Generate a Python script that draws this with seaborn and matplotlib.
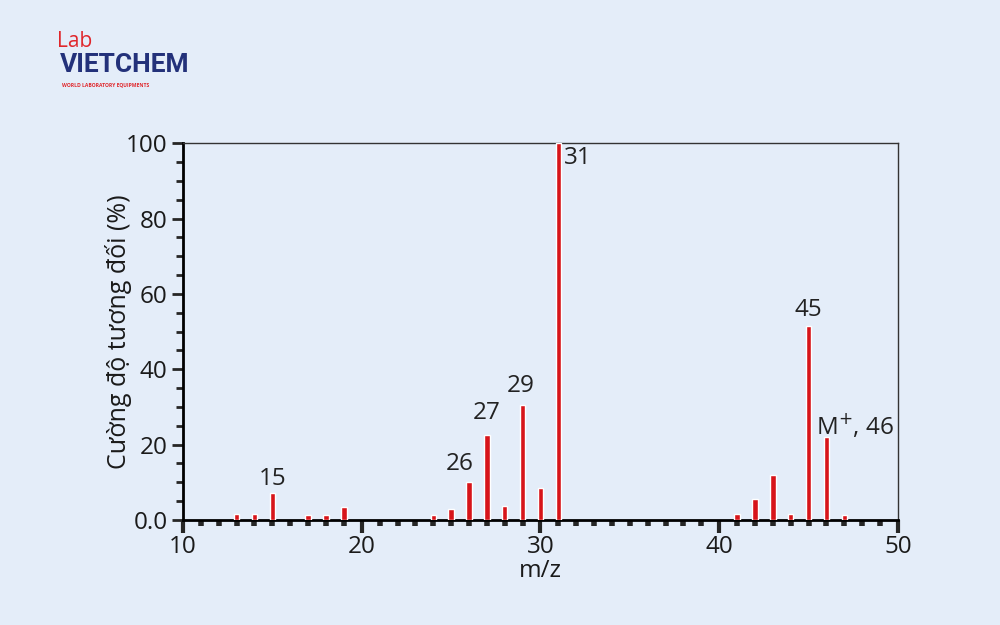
import numpy as np
import pandas as pd
import matplotlib
matplotlib.use('Agg')
import matplotlib.pyplot as plt
import matplotlib.ticker as mt
import seaborn as sns

# m/z peaks and relative intensity (%)
mz        = [13, 14, 15, 17, 18, 19, 24, 25, 26, 27, 28, 29, 30, 31,
             41, 42, 43, 44, 45, 46, 47]
intensity = [1.5, 1.5, 7.2, 1.2, 1.2, 3.4, 1.2, 2.8, 10.0, 22.5, 3.8, 30.5, 8.5, 100.0,
             1.5, 5.5, 12.0, 1.5, 51.5, 22.0, 1.2]

# labelled peaks: text, x, y
peak_txt = ['15', '26', '27', '29', '31', '45', 'M$^{+}$, 46']
peak_x   = [15.0, 25.5, 27.0, 28.9, 32.1, 45.0, 47.6]
peak_y   = [11.0, 14.8, 28.4, 35.5, 96.0, 55.7, 25.0]

x_ticks = [10, 20, 30, 40, 50]
y_ticks = [0, 20, 40, 60, 80, 100]

bg  = '#e4edf9'
red = '#d7141a'

sns.set_style('ticks')
plt.rcParams['font.family'] = ['Open Sans', 'DejaVu Sans']

df = pd.DataFrame({'mz': mz, 'I': intensity})

fig = plt.figure(figsize=(10, 6.25), dpi=100, facecolor=bg)
ax = fig.add_axes([0.183, 0.168, 0.715, 0.603])
ax.set_facecolor(bg)

sns.barplot(data=df, x='mz', y='I', native_scale=True, width=0.3,
            color=red, saturation=1, ax=ax, zorder=3)

for t, x, y in zip(peak_txt, peak_x, peak_y):
    ax.text(x, y, t, ha='center', va='center', fontsize=17.5, color='#222222')

ax.set_xlim(10, 50)
ax.set_ylim(0, 100)
ax.set_xticks(x_ticks)
ax.xaxis.set_minor_locator(mt.MultipleLocator(1))
ax.set_yticks(y_ticks)
ax.yaxis.set_minor_locator(mt.MultipleLocator(5))
ax.yaxis.set_major_formatter(mt.FuncFormatter(lambda v, p: '0.0' if v == 0 else f'{v:.0f}'))

ax.tick_params(axis='x', which='major', direction='out', length=9, width=3, labelsize=17.5, pad=2)
ax.tick_params(axis='x', which='minor', direction='out', length=4, width=4)
ax.tick_params(axis='y', which='major', direction='out', length=8, width=2, labelsize=17.5, pad=3)
ax.tick_params(axis='y', which='minor', direction='out', length=5, width=2)
for lab in ax.get_xticklabels() + ax.get_yticklabels():
    lab.set_color('#1a1a1a')

for s in ['left', 'bottom']:
    ax.spines[s].set_linewidth(2)
    ax.spines[s].set_color('black')
for s in ['top', 'right']:
    ax.spines[s].set_linewidth(1)
    ax.spines[s].set_color('#333333')
    ax.spines[s].set_visible(True)

ax.set_xlabel('m/z', fontsize=17.5, color='#1a1a1a', labelpad=0)
ax.set_ylabel('Cường độ tương đối (%)', fontsize=18, color='#1a1a1a', labelpad=-4)

# logo
fig.text(0.057, 0.934, 'Lab', fontsize=15, color='#e0262b', ha='left', va='center')
fig.text(0.060, 0.896, 'VIETCHEM', fontsize=19, color='#23317a', fontweight='bold',
         ha='left', va='center', family='Roboto', stretch='condensed')
fig.text(0.062, 0.864, 'WORLD LABORATORY EQUIPMENTS', fontsize=3.6, color='#e0262b',
         ha='left', va='center', fontweight='bold')

fig.savefig('out.png', dpi=100, facecolor=bg)
